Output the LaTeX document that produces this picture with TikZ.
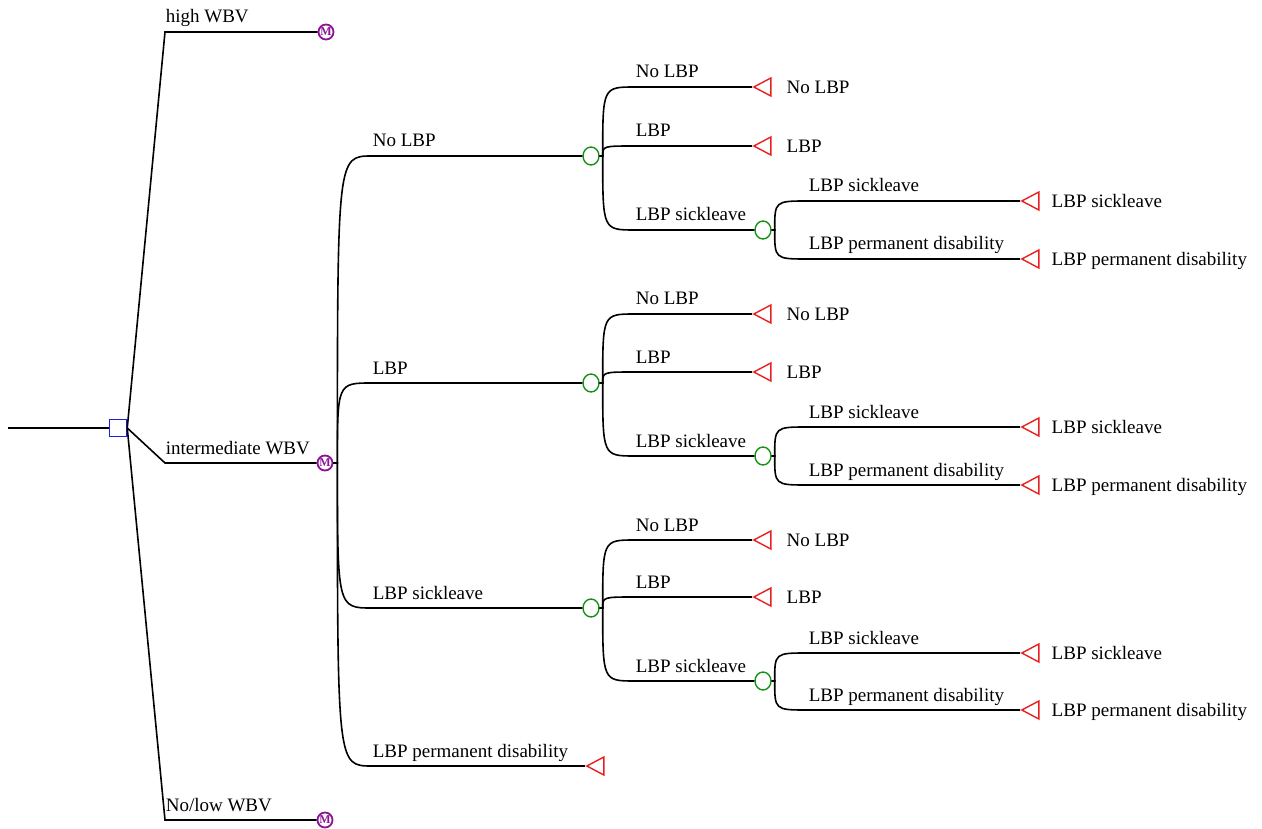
\documentclass[tikz,border=0pt]{standalone}
\usepackage{fontspec}
\setmainfont{Liberation Serif}
\usetikzlibrary{shapes.geometric, positioning}
\definecolor{treeblue}{RGB}{30, 30, 235}
\definecolor{treegreen}{RGB}{20, 145, 20}
\definecolor{treered}{RGB}{235, 30, 30}
\definecolor{treepurple}{RGB}{140, 20, 150}

\begin{document}
\begin{tikzpicture}[x=1pt, y=-1pt,
    br/.style={line width=1.6pt, black},
    elbow/.style={to path={.. controls (\tikztostart |- \tikztotarget) and (\tikztostart |- \tikztotarget) .. (\tikztotarget)}},
    decision/.style={draw=treeblue, line width=1.5pt, minimum size=17pt, inner sep=0pt},
    chance/.style={ellipse, draw=treegreen, line width=1.4pt, minimum width=16pt, minimum height=18pt, inner sep=0pt},
    markov/.style={circle, draw=treepurple, line width=1.8pt, minimum size=15pt, inner sep=0pt,
                   text=treepurple, font=\fontsize{12}{12}\selectfont\bfseries},
    terminal/.style={isosceles triangle, shape border rotate=180, isosceles triangle stretches,
                     draw=treered, line width=1.4pt, minimum width=18pt, minimum height=17pt, inner sep=0pt},
    lbl/.style={font=\fontsize{19}{21}\selectfont, anchor=base west, yshift=9pt, inner sep=0pt},
    tlbl/.style={font=\fontsize{19}{21}\selectfont, text height=13pt, text depth=0pt, inner sep=0pt}
  ]
    \useasboundingbox (0,0) rectangle (1262,829);

    % root decision
    \coordinate (root) at (8,428);
    \node[decision] (dec) at (118,428) {};
    \draw[br] (root) -- (dec);

    \node[markov] (mhigh) at (326,32) {M};
    \node[markov] (minter) at (325,463) {M};
    \node[markov] (mlow) at (325,820) {M};

    \draw[br] (dec.east) -- (165,32) -- node[lbl, pos=0] {high WBV} (mhigh);
    \draw[br] (dec.east) -- (165,463) -- node[lbl, pos=0] {intermediate WBV} (minter);
    \draw[br] (dec.east) -- (165,820) -- node[lbl, pos=0] {No/low WBV} (mlow);

    % states after intermediate WBV
    \node[chance] (c1) at (591,156) {};
    \node[chance] (c2) at (591,383) {};
    \node[chance] (c3) at (591,608) {};
    \node[terminal, anchor=apex] (tpd) at (585,766) {};

    \draw[br] (minter.east) -- ++(4,0) to[elbow] (372,156) -- node[lbl, pos=0] {No LBP} (c1);
    \draw[br] (minter.east) -- ++(4,0) to[elbow] (372,383) -- node[lbl, pos=0] {LBP} (c2);
    \draw[br] (minter.east) -- ++(4,0) to[elbow] (372,608) -- node[lbl, pos=0] {LBP sickleave} (c3);
    \draw[br] (minter.east) -- ++(4,0) to[elbow] (372,766) -- node[lbl, pos=0] {LBP permanent disability} (tpd.apex);

    % block after No LBP
    \node[terminal, anchor=apex] (t11) at (752,87) {};
    \node[terminal, anchor=apex] (t12) at (752,146) {};
    \node[chance] (s1) at (763,230) {};
    \node[terminal, anchor=apex] (t13) at (1020,201) {};
    \node[terminal, anchor=apex] (t14) at (1020,259) {};
    \draw[br] (c1.east) -- ++(3,0) to[elbow] (635,87) -- node[lbl, pos=0] {No LBP} (t11.apex);
    \draw[br] (c1.east) -- ++(3,0) to[elbow] (635,146) -- node[lbl, pos=0] {LBP} (t12.apex);
    \draw[br] (c1.east) -- ++(3,0) to[elbow] (635,230) -- node[lbl, pos=0] {LBP sickleave} (s1);
    \draw[br] (s1.east) -- ++(3,0) to[elbow] (808,201) -- node[lbl, pos=0] {LBP sickleave} (t13.apex);
    \draw[br] (s1.east) -- ++(3,0) to[elbow] (808,259) -- node[lbl, pos=0] {LBP permanent disability} (t14.apex);
    \node[tlbl, right=15pt of t11] {No LBP};
    \node[tlbl, right=15pt of t12] {LBP};
    \node[tlbl, right=12pt of t13] {LBP sickleave};
    \node[tlbl, right=12pt of t14] {LBP permanent disability};

    % block after LBP
    \node[terminal, anchor=apex] (t21) at (752,314) {};
    \node[terminal, anchor=apex] (t22) at (752,372) {};
    \node[chance] (s2) at (763,456) {};
    \node[terminal, anchor=apex] (t23) at (1020,427) {};
    \node[terminal, anchor=apex] (t24) at (1020,485) {};
    \draw[br] (c2.east) -- ++(3,0) to[elbow] (635,314) -- node[lbl, pos=0] {No LBP} (t21.apex);
    \draw[br] (c2.east) -- ++(3,0) to[elbow] (635,372) -- node[lbl, pos=0] {LBP} (t22.apex);
    \draw[br] (c2.east) -- ++(3,0) to[elbow] (635,456) -- node[lbl, pos=0] {LBP sickleave} (s2);
    \draw[br] (s2.east) -- ++(3,0) to[elbow] (808,427) -- node[lbl, pos=0] {LBP sickleave} (t23.apex);
    \draw[br] (s2.east) -- ++(3,0) to[elbow] (808,485) -- node[lbl, pos=0] {LBP permanent disability} (t24.apex);
    \node[tlbl, right=15pt of t21] {No LBP};
    \node[tlbl, right=15pt of t22] {LBP};
    \node[tlbl, right=12pt of t23] {LBP sickleave};
    \node[tlbl, right=12pt of t24] {LBP permanent disability};

    % block after LBP sickleave
    \node[terminal, anchor=apex] (t31) at (752,540) {};
    \node[terminal, anchor=apex] (t32) at (752,597) {};
    \node[chance] (s3) at (763,681) {};
    \node[terminal, anchor=apex] (t33) at (1020,653) {};
    \node[terminal, anchor=apex] (t34) at (1020,710) {};
    \draw[br] (c3.east) -- ++(3,0) to[elbow] (635,540) -- node[lbl, pos=0] {No LBP} (t31.apex);
    \draw[br] (c3.east) -- ++(3,0) to[elbow] (635,597) -- node[lbl, pos=0] {LBP} (t32.apex);
    \draw[br] (c3.east) -- ++(3,0) to[elbow] (635,681) -- node[lbl, pos=0] {LBP sickleave} (s3);
    \draw[br] (s3.east) -- ++(3,0) to[elbow] (808,653) -- node[lbl, pos=0] {LBP sickleave} (t33.apex);
    \draw[br] (s3.east) -- ++(3,0) to[elbow] (808,710) -- node[lbl, pos=0] {LBP permanent disability} (t34.apex);
    \node[tlbl, right=15pt of t31] {No LBP};
    \node[tlbl, right=15pt of t32] {LBP};
    \node[tlbl, right=12pt of t33] {LBP sickleave};
    \node[tlbl, right=12pt of t34] {LBP permanent disability};
  \end{tikzpicture}
\end{document}
